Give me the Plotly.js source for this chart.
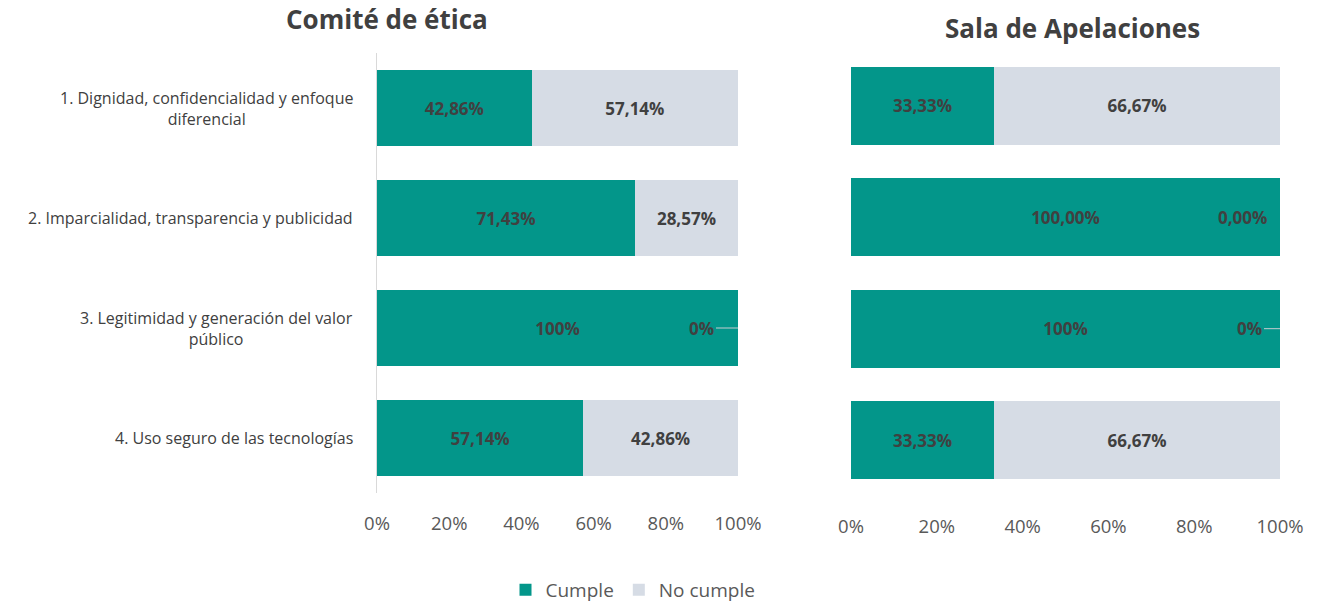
<!DOCTYPE html>
<html>
<head>
<meta charset="utf-8">
<script src="https://cdn.plot.ly/plotly-3.0.1.min.js"></script>
<style>html,body{margin:0;padding:0;background:#fff;}#chart{width:1322px;height:605px;}</style>
</head>
<body>
<div id="chart"></div>
<script>
// ---- Data ----
const categories = [
  "1. Dignidad, confidencialidad y enfoque<br>diferencial",
  "2. Imparcialidad, transparencia y publicidad",
  "3. Legitimidad y generación del valor<br>público",
  "4. Uso seguro de las tecnologías"
];
const panelTitles = ["Comité de ética", "Sala de Apelaciones"];
const seriesNames = ["Cumple", "No cumple"];

const comiteCumple = [42.86, 71.43, 100, 57.14];
const comiteNoCumple = [57.14, 28.57, 0, 42.86];
const comiteCumpleLabels = ["42,86%", "71,43%", "100%", "57,14%"];
const comiteNoCumpleLabels = ["57,14%", "28,57%", "0%", "42,86%"];

const salaCumple = [33.33, 100, 100, 33.33];
const salaNoCumple = [66.67, 0, 0, 66.67];
const salaCumpleLabels = ["33,33%", "100,00%", "100%", "33,33%"];
const salaNoCumpleLabels = ["66,67%", "0,00%", "0%", "66,67%"];

const tickVals = [0, 20, 40, 60, 80, 100];
const tickText = ["0%", "20%", "40%", "60%", "80%", "100%"];

// ---- Style ----
const TEAL = "#03968a";
const GRAY = "#d6dce5";
const FONT = "Open Sans, Noto Sans, sans-serif";
const LABEL_COLOR = "#404040";
const LABEL_SIZE = 17;
const yIdx = [0, 1, 2, 3];

function barTrace(vals, labels, name, color, xa, ya, showlegend, w) {
  return {
    type: "bar", orientation: "h",
    x: vals, y: yIdx,
    name: name, legendgroup: name, showlegend: showlegend,
    marker: {color: color, line: {width: 0}},
    width: w,
    text: vals.map((v, i) => v > 0 ? labels[i] : ""),
    textposition: "inside", insidetextanchor: "middle",
    textfont: {family: FONT, size: LABEL_SIZE, color: LABEL_COLOR, weight: 700},
    constraintext: "none",
    hoverinfo: "skip",
    xaxis: xa, yaxis: ya
  };
}

const data = [
  barTrace(comiteCumple, comiteCumpleLabels, seriesNames[0], TEAL, "x", "y", true, 0.69),
  barTrace(comiteNoCumple, comiteNoCumpleLabels, seriesNames[1], GRAY, "x", "y", true, 0.69),
  barTrace(salaCumple, salaCumpleLabels, seriesNames[0], TEAL, "x2", "y2", false, 0.70),
  barTrace(salaNoCumple, salaNoCumpleLabels, seriesNames[1], GRAY, "x2", "y2", false, 0.70)
];

const annotations = [];
// category labels
categories.forEach((c, i) => {
  annotations.push({
    xref: "paper", yref: "y", x: 355 / 1322, y: i,
    xanchor: "right", yanchor: "middle", align: "center",
    text: c, showarrow: false,
    font: {family: FONT, size: 16, color: LABEL_COLOR}
  });
});
// zero-value labels
function zeroLabels(noVals, labels, cumVals, xa, ya, leader, axOff) {
  noVals.forEach((v, i) => {
    if (v === 0) {
      if (leader[i]) {
        annotations.push({
          xref: xa, yref: ya, x: cumVals[i] + v, y: i,
          text: "<b>" + labels[i] + "</b>", showarrow: true,
          arrowhead: 0, arrowwidth: 1, arrowcolor: "#c8ccd0",
          ax: axOff, ay: 0, xanchor: "right",
          font: {family: FONT, size: LABEL_SIZE, color: LABEL_COLOR}
        });
      } else {
        annotations.push({
          xref: xa, yref: ya, x: cumVals[i] + v, y: i,
          text: "<b>" + labels[i] + "</b>", showarrow: false,
          xanchor: "right", xshift: -11,
          font: {family: FONT, size: LABEL_SIZE, color: LABEL_COLOR}
        });
      }
    }
  });
}
zeroLabels(comiteNoCumple, comiteNoCumpleLabels, comiteCumple, "x", "y", [true, true, true, true], -22);
zeroLabels(salaNoCumple, salaNoCumpleLabels, salaCumple, "x2", "y2", [true, false, true, true], -16);

// panel titles
annotations.push({
  xref: "paper", yref: "paper", x: 387 / 1322, y: 1 - 19 / 605, xanchor: "center", yanchor: "middle",
  text: "<b>" + panelTitles[0] + "</b>", showarrow: false,
  font: {family: FONT, size: 26, color: LABEL_COLOR}
});
annotations.push({
  xref: "paper", yref: "paper", x: 1072 / 1322, y: 1 - 28 / 605, xanchor: "center", yanchor: "middle",
  text: "<b>" + panelTitles[1] + "</b>", showarrow: false,
  font: {family: FONT, size: 26, color: LABEL_COLOR}
});

const xCommon = {
  range: [0, 100], tickvals: tickVals, ticktext: tickText,
  showgrid: false, zeroline: false, showline: false,
  ticks: "outside", ticklen: 14, tickcolor: "rgba(0,0,0,0)",
  tickfont: {family: FONT, size: 18.5, color: "#595959"},
  fixedrange: true
};

const layout = {
  width: 1322, height: 605,
  margin: {l: 0, r: 0, t: 0, b: 0, autoexpand: false},
  paper_bgcolor: "#fff", plot_bgcolor: "#fff",
  barmode: "stack",
  showlegend: true,
  legend: {
    orientation: "h", x: 633 / 1322, xanchor: "center", y: 1 - 590 / 605, yanchor: "middle",
    font: {family: FONT, size: 19, color: "#595959"}, traceorder: "normal",
    itemwidth: 30
  },
  xaxis: Object.assign({}, xCommon, {domain: [377 / 1322, 738 / 1322], anchor: "y"}),
  xaxis2: Object.assign({}, xCommon, {domain: [851 / 1322, 1280 / 1322], anchor: "y2", ticklen: 14}),
  yaxis: {
    domain: [112 / 605, 552 / 605], range: [3.5, -0.5],
    showticklabels: false, showgrid: false, zeroline: false,
    showline: true, linecolor: "#d9d9d9", linewidth: 1, anchor: "x", fixedrange: true
  },
  yaxis2: {
    domain: [(605 - 495.7) / 605, (605 - 50.3) / 605], range: [3.5, -0.5],
    showticklabels: false, showgrid: false, zeroline: false,
    showline: false, anchor: "x2", fixedrange: true
  },
  annotations: annotations
};

Plotly.newPlot("chart", data, layout, {displayModeBar: false, staticPlot: true});
</script>
</body>
</html>
